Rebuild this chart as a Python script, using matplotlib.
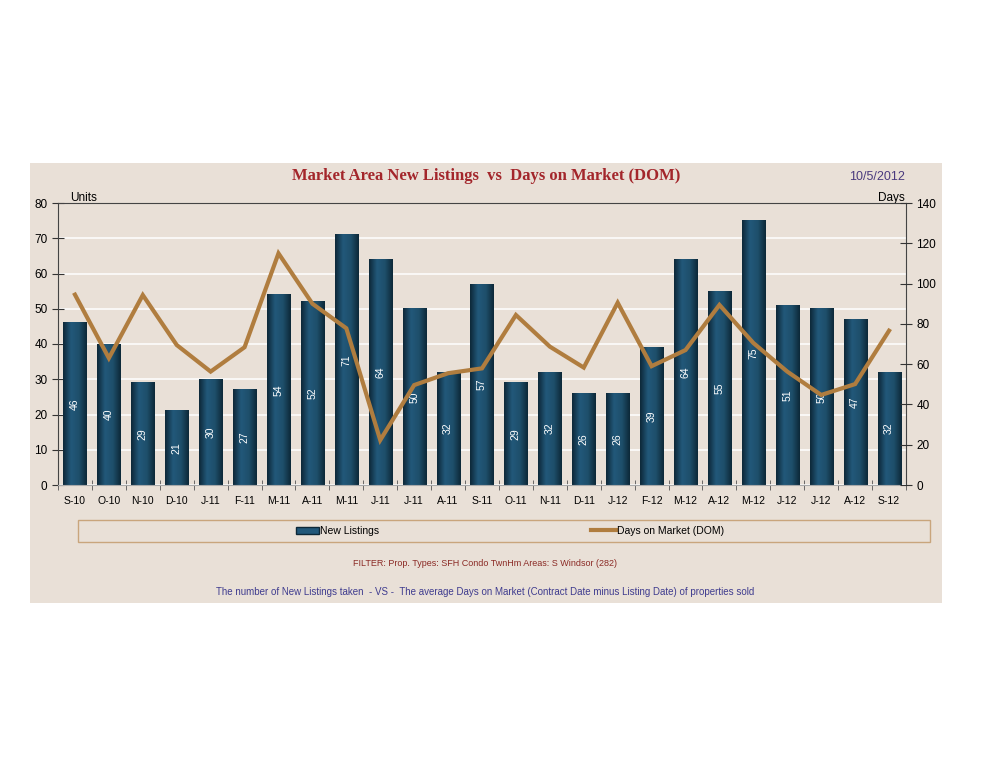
import matplotlib
matplotlib.use('Agg')
import numpy as np
from matplotlib import pyplot as plt
from matplotlib.patches import Rectangle, Patch
from matplotlib.lines import Line2D
from matplotlib.colors import LinearSegmentedColormap

matplotlib.rc('font', **{'family': 'sans-serif', 'sans-serif': ['Liberation Sans', 'DejaVu Sans']})

months = ['S-10', 'O-10', 'N-10', 'D-10', 'J-11', 'F-11', 'M-11', 'A-11', 'M-11',
          'J-11', 'J-11', 'A-11', 'S-11', 'O-11', 'N-11', 'D-11', 'J-12', 'F-12',
          'M-12', 'A-12', 'M-12', 'J-12', 'J-12', 'A-12', 'S-12']
new_listings = [46, 40, 29, 21, 30, 27, 54, 52, 71, 64, 50, 32, 57, 29, 32, 26, 26, 39,
                64, 55, 75, 51, 50, 47, 32]
dom = [94.5, 63, 94.3, 69.5, 56.3, 68.4, 115, 90, 77.8, 22.3, 49.6, 55.5, 57.9, 84.4,
       68.7, 58.3, 90.5, 59, 67, 89.4, 70.5, 56.3, 44.7, 50.1, 76.6]

panel_bg = '#E9E0D7'
bar_dark = '#0D2838'
bar_mid = '#22587A'
line_col = '#B07D3F'

fig = plt.figure(figsize=(9.94, 7.68), dpi=100)
fig.patch.set_facecolor('white')

# beige panel behind everything
fig.patches.append(Rectangle((30 / 994, 1 - 603 / 768), 912 / 994, 440 / 768,
                             transform=fig.transFigure, facecolor=panel_bg,
                             edgecolor='none', zorder=-10))

ax = fig.add_axes([58 / 994, 1 - 485 / 768, 848 / 994, 282 / 768])
ax.set_zorder(5)
ax.set_facecolor(panel_bg)

x = np.arange(len(months))
w = 0.68
cmap = LinearSegmentedColormap.from_list('bar', [bar_dark, bar_mid, '#1E4F6B', bar_dark])
grad = np.linspace(0, 1, 64).reshape(1, -1)
for xi, h in zip(x, new_listings):
    ax.imshow(grad, extent=[xi - w / 2, xi + w / 2, 0, h], aspect='auto', cmap=cmap,
              zorder=2, interpolation='bicubic')
    ax.text(xi, h / 2, str(h), rotation=90, ha='center', va='center', color='white',
            fontsize=7.5, zorder=3)

ax.set_xlim(-0.5, len(months) - 0.5)
ax.set_ylim(0, 80)
ax.set_yticks(range(0, 81, 10))
ax.yaxis.grid(True, color='white', linewidth=1.1, zorder=1)
ax.set_axisbelow(True)
ax.set_xticks(x)
ax.set_xticklabels(months, fontsize=7.5)
ax.set_xticks(np.arange(-0.5, len(months), 1), minor=True)
ax.tick_params(axis='x', which='major', length=0, pad=8)
ax.tick_params(axis='x', which='minor', length=7, direction='inout', color='#555555')
ax.tick_params(axis='y', direction='inout', length=8, labelsize=8.5, color='#333333')
for side in ['left', 'right', 'top', 'bottom']:
    ax.spines[side].set_color('#444444')
ax.spines['bottom'].set_color('#aaaaaa')

ax2 = ax.twinx()
ax2.plot(x, dom, color=line_col, linewidth=3, solid_joinstyle='miter', zorder=5)
ax2.set_ylim(0, 140)
ax2.set_yticks(range(0, 141, 20))
ax2.tick_params(axis='y', direction='inout', length=8, labelsize=8.5, color='#333333')
for side in ['left', 'right', 'top', 'bottom']:
    ax2.spines[side].set_visible(False)
ax2.set_xlim(-0.5, len(months) - 0.5)

fig.text(70 / 994, 1 - 198 / 768, 'Units', fontsize=8.5, ha='left', va='center')
fig.text(905 / 994, 1 - 198 / 768, 'Days', fontsize=8.5, ha='right', va='center')

fig.text(486 / 994, 1 - 176 / 768, 'Market Area New Listings  vs  Days on Market (DOM)',
         family='Liberation Serif', fontweight='bold', fontsize=12, color='#A3262B',
         ha='center', va='center')
fig.text(877 / 994, 1 - 177 / 768, '10/5/2012', fontsize=9, color='#4A3A7E',
         ha='center', va='center')

# legend box
fig.patches.append(Rectangle((78 / 994, 1 - 542 / 768), 852 / 994, 22 / 768,
                             transform=fig.transFigure, facecolor=panel_bg,
                             edgecolor='#C9A57C', linewidth=1, zorder=1))
leg1 = fig.legend([Patch(facecolor=bar_mid, edgecolor=bar_dark)], ['New Listings'],
                  loc='center left', bbox_to_anchor=(287 / 994, 1 - 531 / 768),
                  frameon=False, fontsize=7.5, handlelength=2.2, handleheight=0.6,
                  handletextpad=0.05)
leg2 = fig.legend([Line2D([], [], color=line_col, linewidth=3)], ['Days on Market (DOM)'],
                  loc='center left', bbox_to_anchor=(582 / 994, 1 - 531 / 768),
                  frameon=False, fontsize=7.5, handlelength=2.4, handletextpad=0.05)

fig.text(485 / 994, 1 - 563 / 768, 'FILTER: Prop. Types: SFH Condo TwnHm Areas: S Windsor (282)',
         fontsize=6.5, color='#8B2A25', ha='center', va='center')
fig.text(485 / 994, 1 - 592 / 768,
         'The number of New Listings taken  - VS -  The average Days on Market (Contract Date minus Listing Date) of properties sold',
         fontsize=7, color='#3F3C8F', ha='center', va='center')

fig.savefig('out.png', dpi=100, facecolor='white')
